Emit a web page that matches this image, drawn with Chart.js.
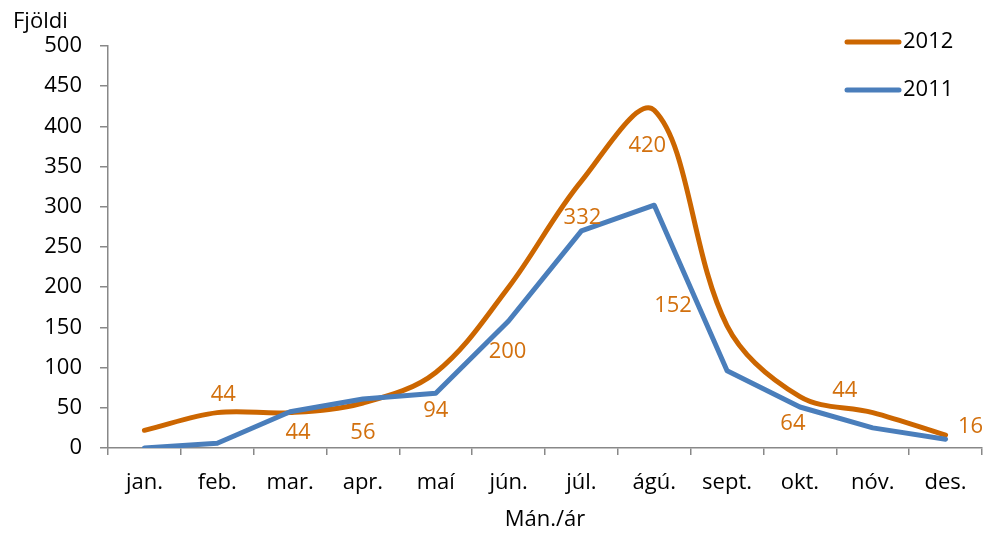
<!DOCTYPE html>
<html>
<head>
<meta charset="utf-8">
<script src="https://cdn.jsdelivr.net/npm/chart.js@4/dist/chart.umd.min.js"></script>
<style>
html,body{margin:0;padding:0;background:#fff;}
#wrap{width:983px;height:533px;position:relative;}
</style>
</head>
<body>
<div id="wrap"><canvas id="c"></canvas></div>
<script>
const months = ['jan.','feb.','mar.','apr.','maí','jún.','júl.','ágú.','sept.','okt.','nóv.','des.'];
const values2012 = [22,44,44,56,94,200,332,420,152,64,44,16];
const values2011 = [0,6,45,61,68,158,270,302,96,51,25,11];
const labelShown2012 = [false,true,true,true,true,true,true,true,true,true,true,true];
const yTicks = [0,50,100,150,200,250,300,350,400,450,500];
const yTitle = 'Fjöldi';
const xTitle = 'Mán./ár';

// label placement offsets (styling, in px relative to the point)
const labelOffsets = [[0,0],[6,-18],[8,20],[0,30],[0,38],[-1,65],[1,37],[-7,35],[-54,-20],[-7,27],[-28,-22],[25,-8]];

const FONT = '"Open Sans", Lato, sans-serif';
const FS = 22;
const ORANGE = '#CC6600';
const BLUE = '#4A7EBB';
const LABEL = '#D2700E';

const extras = {
  id: 'extras',
  afterDatasetsDraw(chart) {
    const ctx = chart.ctx;
    ctx.save();
    const meta = chart.getDatasetMeta(1);
    ctx.font = FS + 'px ' + FONT;
    ctx.fillStyle = LABEL;
    ctx.textAlign = 'center';
    ctx.textBaseline = 'middle';
    meta.data.forEach((pt, i) => {
      if (!labelShown2012[i]) return;
      const o = labelOffsets[i];
      ctx.fillText(String(values2012[i]), pt.x + o[0], pt.y + o[1]);
    });
    const items = [chart.data.datasets[1], chart.data.datasets[0]];
    items.forEach((ds, k) => {
      const y = 42 + k * 48;
      ctx.strokeStyle = ds.borderColor;
      ctx.lineWidth = 5;
      ctx.lineCap = 'round';
      ctx.beginPath();
      ctx.moveTo(847, y);
      ctx.lineTo(899, y);
      ctx.stroke();
      ctx.fillStyle = '#000';
      ctx.textAlign = 'left';
      ctx.fillText(ds.label, 903, y);
    });
    ctx.fillStyle = '#000';
    ctx.textAlign = 'left';
    ctx.fillText(yTitle, 13, 22);
    ctx.restore();
  }
};

new Chart(document.getElementById('c'), {
  type: 'line',
  data: {
    labels: months,
    datasets: [
      { label: '2011', data: values2011, borderColor: BLUE, backgroundColor: BLUE, borderWidth: 5, pointRadius: 0, tension: 0, borderCapStyle: 'round', borderJoinStyle: 'round' },
      { label: '2012', data: values2012, borderColor: ORANGE, backgroundColor: ORANGE, borderWidth: 5, pointRadius: 0, tension: 0.35, borderCapStyle: 'round', borderJoinStyle: 'round' }
    ]
  },
  options: {
    responsive: true,
    maintainAspectRatio: false,
    animation: false,
    layout: { padding: { top: 46, right: 1, bottom: 0, left: 0 } },
    plugins: { legend: { display: false }, tooltip: { enabled: false } },
    scales: {
      x: {
        offset: true,
        grid: { offset: true, drawOnChartArea: false, drawTicks: true, tickLength: 7, color: '#888', lineWidth: 1.5 },
        border: { display: true, color: '#888', width: 1.5 },
        ticks: { color: '#000', font: { family: FONT, size: FS }, padding: 15, maxRotation: 0 },
        title: { display: true, text: xTitle, color: '#000', font: { family: FONT, size: FS }, padding: { top: 2, bottom: 0 } },
        afterFit(s) { s.height = 85; }
      },
      y: {
        min: 0, max: 500,
        afterBuildTicks(s) { s.ticks = yTicks.map(v => ({ value: v })); },
        grid: { drawOnChartArea: false, drawTicks: true, tickLength: 8, color: '#888', lineWidth: 1.5 },
        border: { display: true, color: '#888', width: 1.5 },
        ticks: { color: '#000', font: { family: FONT, size: FS }, padding: 18 },
        afterFit(s) { s.width = 108; }
      }
    }
  },
  plugins: [extras]
});
</script>
</body>
</html>
